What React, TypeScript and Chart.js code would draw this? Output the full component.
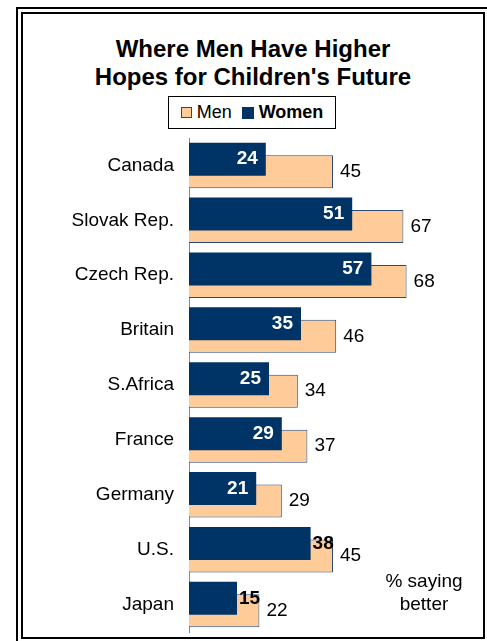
import React, { useEffect, useRef } from 'react';
import { Chart, registerables } from 'chart.js';

Chart.register(...registerables);

const categories = ['Canada', 'Slovak Rep.', 'Czech Rep.', 'Britain', 'S.Africa', 'France', 'Germany', 'U.S.', 'Japan'];
const menValues = [45, 67, 68, 46, 34, 37, 29, 45, 22];
const womenValues = [24, 51, 57, 35, 25, 29, 21, 38, 15];
const womenLabelInside = [true, true, true, true, true, true, true, false, false];
const seriesNames = ['Men', 'Women'];
const titleLines = ['Where Men Have Higher', "Hopes for Children's Future"];
const noteLines = ['% saying', 'better'];

const FONT = '"Liberation Sans", Arial, Helvetica, sans-serif';
const MEN_COLOR = '#FFCC99';
const MEN_BORDER = '#2A4A7A';
const WOMEN_COLOR = '#003366';

export default function App() {
  const ref = useRef<HTMLCanvasElement>(null);

  useEffect(() => {
    if (!ref.current) return;
    const valueLabels = {
      id: 'valueLabels',
      afterDatasetsDraw(chart: any) {
        const ctx = chart.ctx;
        ctx.save();
        ctx.textBaseline = 'middle';
        const wMeta = chart.getDatasetMeta(0);
        const mMeta = chart.getDatasetMeta(1);
        mMeta.data.forEach((bar: any, i: number) => {
          ctx.font = `19px ${FONT}`;
          ctx.fillStyle = '#000';
          ctx.textAlign = 'left';
          ctx.fillText(String(menValues[i]), bar.x + 7, bar.y);
        });
        wMeta.data.forEach((bar: any, i: number) => {
          ctx.font = `bold 19px ${FONT}`;
          if (womenLabelInside[i]) {
            ctx.fillStyle = '#fff';
            ctx.textAlign = 'right';
            ctx.fillText(String(womenValues[i]), bar.x - 8, bar.y);
          } else {
            ctx.fillStyle = '#000';
            ctx.textAlign = 'left';
            ctx.fillText(String(womenValues[i]), bar.x + 2, bar.y);
          }
        });
        ctx.restore();
      },
    };

    const chart = new Chart(ref.current, {
      type: 'bar',
      data: {
        labels: categories,
        datasets: [
          {
            label: seriesNames[1],
            data: womenValues,
            backgroundColor: WOMEN_COLOR,
            borderWidth: 0,
            categoryPercentage: 0.4555,
            barPercentage: 2.64,
          },
          {
            label: seriesNames[0],
            data: menValues,
            backgroundColor: MEN_COLOR,
            borderColor: MEN_BORDER,
            borderWidth: 1,
            categoryPercentage: 0.4555,
            barPercentage: 2.64,
          },
        ],
      },
      options: {
        indexAxis: 'y',
        animation: false,
        responsive: false,
        devicePixelRatio: 1,
        layout: { padding: { top: 6, bottom: 4, left: 0, right: 6 } },
        plugins: {
          legend: { display: false },
          title: { display: false },
          tooltip: { enabled: false },
        },
        scales: {
          x: {
            display: false,
            min: 0,
            max: 90,
          },
          y: {
            afterFit: (scale: any) => {
              scale.width = 166;
              scale.paddingTop = 0;
              scale.paddingBottom = 0;
            },
            grid: { display: false, drawTicks: false },
            border: { display: true, color: '#8a8a8a', width: 1 },
            ticks: {
              padding: 15,
              color: '#000',
              font: { family: FONT, size: 19 },
            },
          },
        },
      },
      plugins: [valueLabels],
    } as any);

    return () => chart.destroy();
  }, []);

  return (
    <div style={{ position: 'absolute', left: 0, top: 0, width: 487, height: 641, overflow: 'hidden', background: '#fff', fontFamily: FONT }}>
      <div style={{ position: 'absolute', left: 16, top: 7, width: 500, height: 660, border: '2px solid #000', boxSizing: 'border-box' }} />
      <div style={{ position: 'absolute', left: 21, top: 12, width: 464, height: 627, border: '2px solid #000', boxSizing: 'border-box', background: '#fff' }} />
      <div style={{ position: 'absolute', left: 23, top: 35, width: 460, textAlign: 'center', fontWeight: 'bold', fontSize: 24, lineHeight: '28px', color: '#000' }}>
        {titleLines.map((t) => (
          <div key={t}>{t}</div>
        ))}
      </div>
      <div style={{ position: 'absolute', left: 168, top: 96, width: 168, height: 33, border: '1px solid #000', boxSizing: 'border-box', display: 'flex', alignItems: 'center', justifyContent: 'center', fontSize: 18, color: '#000' }}>
        <span style={{ display: 'inline-block', width: 11, height: 11, background: MEN_COLOR, border: `1px solid ${MEN_BORDER}`, boxSizing: 'border-box', marginRight: 5 }} />
        <span style={{ marginRight: 10 }}>{seriesNames[0]}</span>
        <span style={{ display: 'inline-block', width: 12, height: 12, background: WOMEN_COLOR, marginRight: 5 }} />
        <span style={{ fontWeight: 'bold' }}>{seriesNames[1]}</span>
      </div>
      <canvas ref={ref} width={460} height={504} style={{ position: 'absolute', left: 23, top: 132, width: 460, height: 504 }} />
      <div style={{ position: 'absolute', left: 374, top: 569, width: 100, textAlign: 'center', fontSize: 19, lineHeight: '23px', color: '#000' }}>
        {noteLines.map((t) => (
          <div key={t}>{t}</div>
        ))}
      </div>
    </div>
  );
}
